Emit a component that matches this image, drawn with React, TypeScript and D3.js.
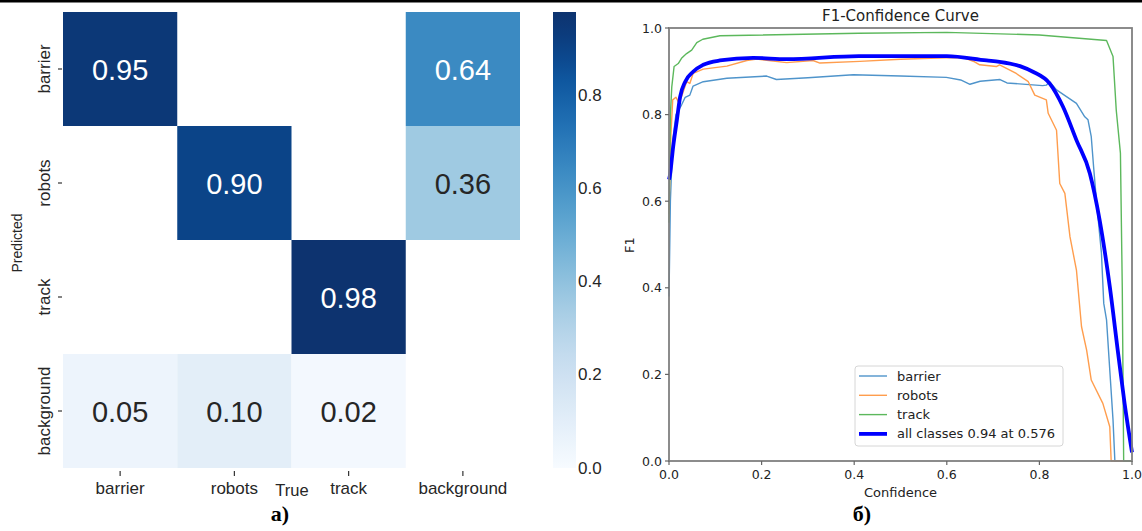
import React from 'react';
import * as d3 from 'd3';

// confusion matrix: rows = predicted, columns = true
const classes = ['barrier', 'robots', 'track', 'background'];
const matrix: (number | null)[][] = [
  [0.95, null, null, 0.64],
  [null, 0.90, null, 0.36],
  [null, null, 0.98, null],
  [0.05, 0.10, 0.02, null],
];
const cbarTicks = [0, 0.2, 0.4, 0.6, 0.8];
const cbarMax = 0.98;

// F1-confidence curves, [confidence, f1]
const barrierCurve = [
  [0, 0.38], [0.003, 0.6], [0.008, 0.74], [0.015, 0.8], [0.027, 0.822], [0.035, 0.84],
  [0.045, 0.845], [0.052, 0.866], [0.074, 0.876], [0.125, 0.884], [0.211, 0.889],
  [0.232, 0.881], [0.3, 0.885], [0.398, 0.892], [0.5, 0.889], [0.599, 0.886], [0.63, 0.88],
  [0.65, 0.87], [0.672, 0.877], [0.715, 0.881], [0.73, 0.873], [0.807, 0.867], [0.815, 0.868],
  [0.822, 0.876], [0.837, 0.857], [0.88, 0.826], [0.898, 0.795], [0.905, 0.788], [0.912, 0.749],
  [0.917, 0.68], [0.923, 0.603], [0.934, 0.48], [0.939, 0.364], [0.945, 0.326], [0.952, 0.21],
  [0.959, 0.095], [0.963, 0], [1, 0],
];
const robotsCurve = [
  [0, 0.57], [0.004, 0.75], [0.008, 0.834], [0.015, 0.84], [0.02, 0.83], [0.027, 0.841],
  [0.038, 0.876], [0.045, 0.872], [0.052, 0.895], [0.074, 0.905], [0.125, 0.912], [0.168, 0.925],
  [0.19, 0.928], [0.254, 0.92], [0.311, 0.925], [0.326, 0.919], [0.412, 0.923], [0.5, 0.928],
  [0.614, 0.932], [0.64, 0.93], [0.66, 0.922], [0.671, 0.915], [0.707, 0.911], [0.714, 0.915],
  [0.75, 0.895], [0.776, 0.876], [0.79, 0.845], [0.815, 0.834], [0.819, 0.803], [0.837, 0.764],
  [0.844, 0.641], [0.855, 0.618], [0.866, 0.518], [0.88, 0.441], [0.891, 0.31], [0.902, 0.256],
  [0.912, 0.187], [0.937, 0.133], [0.952, 0.079], [0.955, 0], [1, 0],
];
const trackCurve = [
  [0, 0.55], [0.003, 0.8], [0.006, 0.864], [0.011, 0.911], [0.02, 0.918], [0.027, 0.93],
  [0.038, 0.941], [0.049, 0.949], [0.06, 0.966], [0.073, 0.974], [0.11, 0.982], [0.41, 0.988],
  [0.6, 0.99], [0.8, 0.984], [0.945, 0.971], [0.959, 0.934], [0.966, 0.81], [0.975, 0.711],
  [0.979, 0.4], [0.982, 0], [1, 0],
];
const allCurve = [
  [0, 0.65], [0.002, 0.66], [0.009, 0.726], [0.017, 0.787], [0.024, 0.841], [0.035, 0.876],
  [0.052, 0.899], [0.074, 0.915], [0.11, 0.925], [0.182, 0.931], [0.254, 0.928], [0.41, 0.935],
  [0.6, 0.935], [0.686, 0.925], [0.714, 0.922], [0.758, 0.912], [0.786, 0.899], [0.822, 0.872],
  [0.851, 0.818], [0.88, 0.741], [0.909, 0.664], [0.93, 0.557], [0.952, 0.403], [0.97, 0.249],
  [0.984, 0.133], [1, 0.02],
];
const series = [
  { name: 'barrier', data: barrierCurve, color: '#4f94cb', width: 1.4, smooth: false },
  { name: 'robots', data: robotsCurve, color: '#ff9d4d', width: 1.4, smooth: false },
  { name: 'track', data: trackCurve, color: '#5cb85c', width: 1.4, smooth: false },
  { name: 'all classes 0.94 at 0.576', data: allCurve, color: '#0000ff', width: 3.8, smooth: true },
];
const f1Ticks = [0, 0.2, 0.4, 0.6, 0.8, 1.0];

const sans = 'Arial, "Liberation Sans", sans-serif';
const mpl = '"DejaVu Sans", sans-serif';

export default function App() {
  const cmX = d3.scaleBand().domain(classes).range([63, 520]);
  const cmY = d3.scaleBand().domain(classes).range([12, 468]);
  // slightly lifted top end of Blues to match the washed-out dark navy
  const blues = (t: number) => d3.interpolateRgb(d3.interpolateBlues(t), '#1a3a78')(Math.max(0, t - 0.85) * 2);
  const color = (v: number) => blues(v / cbarMax);
  const cbY = d3.scaleLinear().domain([0, cbarMax]).range([468, 12]);
  const stops = d3.range(0, 1.0001, 0.05);

  const x = d3.scaleLinear().domain([0, 1]).range([669, 1132]);
  const y = d3.scaleLinear().domain([0, 1]).range([461, 28]);
  const line = d3.line<number[]>().x(d => x(d[0])).y(d => y(d[1]));
  const smoothLine = d3.line<number[]>().x(d => x(d[0])).y(d => y(d[1])).curve(d3.curveMonotoneX);

  return (
    <svg width={1142} height={531} style={{ position: 'absolute', left: 0, top: 0, background: '#fff' }}>
      <defs>
        <linearGradient id="cbar" x1="0" y1="1" x2="0" y2="0">
          {stops.map(t => (
            <stop key={t} offset={t} stopColor={blues(t)} />
          ))}
        </linearGradient>
      </defs>
      <rect x={0} y={0} width={1142} height={2.5} fill="#000" />

      {/* confusion matrix */}
      {matrix.map((row, i) =>
        row.map((v, j) => {
          if (v === null) return null;
          const c = color(v);
          const light = d3.lab(c).l > 65;
          return (
            <g key={i + '-' + j}>
              <rect x={cmX(classes[j])} y={cmY(classes[i])} width={cmX.bandwidth()} height={cmY.bandwidth()} fill={c} />
              <text x={cmX(classes[j])! + cmX.bandwidth() / 2} y={cmY(classes[i])! + cmY.bandwidth() / 2 + 1}
                textAnchor="middle" dominantBaseline="central" fontFamily={sans} fontSize={29}
                fill={light ? '#262626' : '#fff'}>{v.toFixed(2)}</text>
            </g>
          );
        })
      )}
      {classes.map(c => {
        const cx = cmX(c)! + cmX.bandwidth() / 2;
        const cy = cmY(c)! + cmY.bandwidth() / 2;
        return (
          <g key={c}>
            <line x1={cx} x2={cx} y1={471} y2={476} stroke="#333" strokeWidth={1.2} />
            <text x={cx} y={494} textAnchor="middle" fontFamily={sans} fontSize={17} fill="#262626">{c}</text>
            <line x1={58} x2={62} y1={cy} y2={cy} stroke="#333" strokeWidth={1.2} />
            <text transform={`translate(50,${cy}) rotate(-90)`} textAnchor="middle" fontFamily={sans} fontSize={17} fill="#262626">{c}</text>
          </g>
        );
      })}
      <text x={292} y={496} textAnchor="middle" fontFamily={sans} fontSize={16.5} fill="#262626">True</text>
      <text transform="translate(22,243) rotate(-90)" textAnchor="middle" fontFamily={sans} fontSize={14} fill="#262626">Predicted</text>

      {/* colorbar */}
      <rect x={553} y={12} width={23} height={456} fill="url(#cbar)" />
      {cbarTicks.map(t => (
        <text key={t} x={578} y={cbY(t)} dominantBaseline="central" fontFamily={sans} fontSize={17} fill="#262626">{t.toFixed(1)}</text>
      ))}

      {/* F1-confidence curve */}
      {series.map(s => (
        <path key={s.name} d={(s.smooth ? smoothLine(s.data) : line(s.data)) ?? ''} fill="none" stroke={s.color} strokeWidth={s.width} strokeLinejoin="round" />
      ))}
      <rect x={669} y={28} width={463} height={433} fill="none" stroke="#808080" strokeWidth={1.8} />
      {f1Ticks.map(t => (
        <g key={t}>
          <line x1={x(t)} x2={x(t)} y1={461} y2={465} stroke="#666" strokeWidth={1.2} />
          <text x={x(t)} y={479} textAnchor="middle" fontFamily={mpl} fontSize={12.5} fill="#222">{t.toFixed(1)}</text>
          <line x1={665} x2={669} y1={y(t)} y2={y(t)} stroke="#666" strokeWidth={1.2} />
          <text x={662} y={y(t)} textAnchor="end" dominantBaseline="central" fontFamily={mpl} fontSize={12.5} fill="#222">{t.toFixed(1)}</text>
        </g>
      ))}
      <text x={900.5} y={21} textAnchor="middle" fontFamily={mpl} fontSize={15} fill="#222">F1-Confidence Curve</text>
      <text x={900.5} y={497} textAnchor="middle" fontFamily={mpl} fontSize={13} fill="#222">Confidence</text>
      <text transform="translate(634,245) rotate(-90)" textAnchor="middle" fontFamily={mpl} fontSize={13} fill="#222">F1</text>

      {/* legend */}
      <rect x={855} y={366} width={208} height={80} rx={3} fill="#fff" fillOpacity={0.85} stroke="#d6d6d6" strokeWidth={1} />
      {series.map((s, i) => (
        <g key={s.name}>
          <line x1={859} x2={887} y1={376 + i * 19.3} y2={376 + i * 19.3} stroke={s.color} strokeWidth={s.width} />
          <text x={897} y={376 + i * 19.3} dominantBaseline="central" fontFamily={mpl} fontSize={13} fill="#222">{s.name}</text>
        </g>
      ))}

      {/* panel labels */}
      <text x={280} y={521} textAnchor="middle" fontFamily='"Liberation Serif", "Times New Roman", serif' fontWeight="bold" fontSize={22} fill="#000">a)</text>
      <text x={862} y={521} textAnchor="middle" fontFamily='"Liberation Serif", "Times New Roman", serif' fontWeight="bold" fontSize={22} fill="#000">б)</text>
    </svg>
  );
}
